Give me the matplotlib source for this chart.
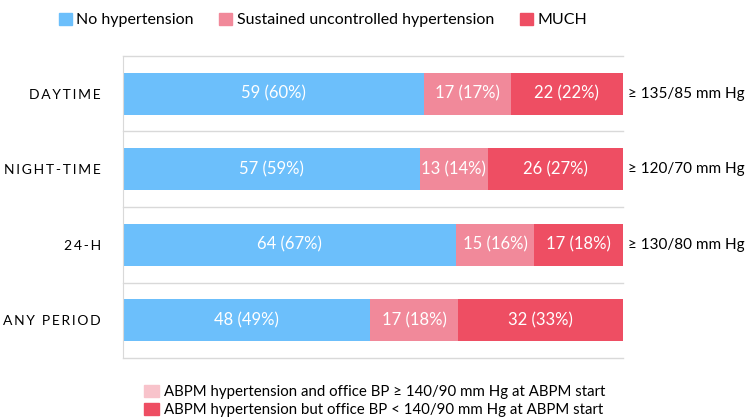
import numpy as np
import matplotlib
matplotlib.use('Agg')
import matplotlib.pyplot as plt
from matplotlib.patches import Patch
import matplotlib.transforms as mtrans

plt.rcParams['font.family'] = ['Lato', 'DejaVu Sans']

periods = ['DAYTIME', 'NIGHT-TIME', '24-H', 'ANY PERIOD']
thresholds = ['\u2265 135/85 mm Hg', '\u2265 120/70 mm Hg', '\u2265 130/80 mm Hg', '']
no_ht_n = [59, 57, 64, 48]
no_ht_pct = [60, 59, 67, 49]
sust_n = [17, 13, 15, 17]
sust_pct = [17, 14, 16, 18]
much_n = [22, 26, 17, 32]
much_pct = [22, 27, 18, 33]

c_blue = '#6cbffb'
c_pink = '#f1899a'
c_red = '#ee4e63'
c_light = '#f8c3cb'
c_grid = '#d9d9d9'

fig = plt.figure(figsize=(7.5, 4.19), dpi=100)
ax = fig.add_axes([123/750, 1-358/419, 500/750, 302/419])

y = np.arange(len(periods))
h = 0.56
# bars are stretched to the full width (share of each row's total)
totals = np.array(no_ht_n) + np.array(sust_n) + np.array(much_n)
left = np.zeros(len(periods))
for n, p, c in [(no_ht_n, no_ht_pct, c_blue), (sust_n, sust_pct, c_pink), (much_n, much_pct, c_red)]:
    w = np.array(n) / totals * 100
    ax.barh(y, w, left=left, height=h, color=c, edgecolor='none')
    for i in range(len(periods)):
        ax.text(left[i] + w[i]/2, y[i], '%d (%d%%)' % (n[i], p[i]),
                ha='center', va='center', color='white', fontsize=12)
    left = left + w

ax.set_xlim(0, 100)
ax.set_ylim(3.5, -0.5)
for g in [-0.5, 0.5, 1.5, 2.5, 3.5]:
    ax.axhline(g, color=c_grid, lw=1, zorder=0, clip_on=False)
for s in ['top', 'right', 'bottom']:
    ax.spines[s].set_visible(False)
ax.spines['left'].set_color(c_grid)
ax.set_xticks([])
ax.set_yticks(y)
ax.set_yticklabels(['\u2009'.join(list(p)) for p in periods], fontsize=10)
ax.tick_params(axis='y', length=0, pad=16)

trans = mtrans.blended_transform_factory(ax.transAxes, ax.transData)
for i, t in enumerate(thresholds):
    ax.text(1.01, y[i], t, transform=trans, ha='left', va='center', fontsize=11)

top_handles = [Patch(color=c_blue), Patch(color=c_pink), Patch(color=c_red)]
fig.legend(top_handles, ['No hypertension', 'Sustained uncontrolled hypertension', 'MUCH'],
           loc='center', bbox_to_anchor=(323/750, 1-20/419), ncol=3, frameon=False,
           fontsize=11.5, handlelength=0.8, handleheight=0.8, handletextpad=0.3,
           columnspacing=1.6)

bot_handles = [Patch(color=c_light), Patch(color=c_red)]
fig.legend(bot_handles, ['ABPM hypertension and office BP \u2265 140/90 mm Hg at ABPM start',
                         'ABPM hypertension but office BP < 140/90 mm Hg at ABPM start'],
           loc='upper left', bbox_to_anchor=(136/750, 1-377/419), ncol=1, frameon=False,
           fontsize=10.8, handlelength=1.0, handleheight=0.9, handletextpad=0.35,
           labelspacing=0.25, borderpad=0)

fig.savefig('out.png', dpi=100)
